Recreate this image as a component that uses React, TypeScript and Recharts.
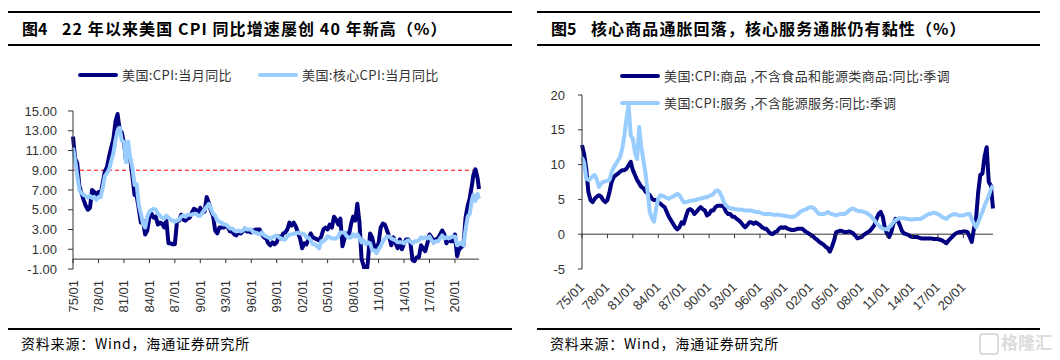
import { Line, LineChart, ReferenceLine, XAxis, YAxis } from "recharts";

const NAVY = "#000080";
const SKY = "#99ccff";
const AXIS = "#333333";
const LATIN = "'Liberation Sans', Arial, sans-serif";
const CJK = "'Noto Sans CJK SC', 'Noto Sans', sans-serif";

const xTickYears = [1975, 1978, 1981, 1984, 1987, 1990, 1993, 1996, 1999, 2002, 2005, 2008, 2011, 2014, 2017, 2020];
const yearLabel = (y: number) => `${String(y % 100).padStart(2, "0")}/01`;

// 图4: 美国 CPI 当月同比, sampled Jan/Apr/Jul/Oct 1975-2021
const cpiYoY = [
  12.4, 10.2, 9.7, 7.4,
  6.7, 6.0, 5.4, 5.0,
  5.2, 7.0, 6.8, 6.4,
  6.8, 6.5, 7.7, 8.9,
  9.3, 10.4, 11.3, 12.1,
  13.9, 14.7, 13.1, 12.8,
  11.8, 10.0, 10.8, 10.1,
  8.4, 6.5, 6.4, 5.1,
  3.7, 3.9, 2.5, 2.9,
  4.2, 4.6, 4.2, 4.3,
  3.5, 3.7, 3.6, 3.2,
  3.9, 1.6, 1.6, 1.5,
  1.5, 3.8, 3.9, 4.5,
  4.0, 3.9, 4.1, 4.2,
  4.7, 5.1, 5.0, 4.5,
  5.2, 4.7, 4.8, 6.3,
  5.7, 4.9, 4.4, 2.9,
  2.6, 3.2, 3.2, 3.2,
  3.3, 3.2, 2.8, 2.8,
  2.5, 2.4, 2.8, 2.6,
  2.8, 3.1, 2.8, 2.8,
  2.7, 2.9, 3.0, 3.0,
  3.0, 2.5, 2.2, 2.1,
  1.6, 1.4, 1.7, 1.5,
  1.7, 2.3, 2.1, 2.6,
  2.7, 3.0, 3.7, 3.4,
  3.7, 3.3, 2.7, 2.1,
  1.1, 1.6, 1.5, 2.0,
  2.6, 2.2, 2.1, 2.0,
  1.9, 2.3, 3.0, 3.2,
  3.0, 3.5, 3.2, 4.3,
  4.0, 3.5, 4.1, 1.3,
  2.1, 2.6, 2.4, 3.5,
  4.3, 3.9, 5.6, 3.7,
  0.0, -0.7, -2.1, -0.2,
  2.6, 2.2, 1.2, 1.2,
  1.6, 3.2, 3.6, 3.5,
  2.9, 2.3, 1.4, 2.2,
  1.6, 1.1, 2.0, 1.0,
  1.6, 2.0, 2.0, 1.7,
  -0.1, -0.2, 0.2, 0.2,
  1.4, 1.1, 0.8, 1.6,
  2.5, 2.2, 1.7, 2.0,
  2.1, 2.5, 2.9, 2.5,
  1.6, 2.0, 1.8, 1.8,
  2.5, 0.3, 1.0, 1.2,
  1.4, 4.2, 5.4, 6.2,
];

// 美国:核心CPI:当月同比, same sampling
const coreCpiYoY = [
  11.3, 10.0, 8.5, 7.0,
  6.7, 6.5, 6.4, 6.2,
  6.4, 6.2, 6.3, 6.0,
  6.3, 6.3, 7.2, 8.4,
  8.7, 9.1, 9.9, 10.7,
  12.0, 13.0, 13.3, 12.0,
  11.9, 9.8, 11.9, 10.2,
  9.3, 7.5, 7.6, 5.5,
  4.6, 3.6, 3.2, 4.3,
  4.8, 5.0, 5.1, 5.0,
  4.6, 4.4, 4.2, 4.1,
  4.4, 4.2, 4.0, 3.9,
  3.8, 3.9, 4.0, 4.3,
  4.4, 4.3, 4.5, 4.5,
  4.5, 4.6, 4.6, 4.4,
  4.4, 4.7, 5.0, 5.3,
  5.6, 5.1, 4.6, 4.4,
  3.9, 3.8, 3.7, 3.5,
  3.5, 3.3, 3.1, 3.1,
  2.9, 2.8, 2.9, 2.8,
  2.9, 3.1, 3.0, 3.0,
  3.0, 2.7, 2.7, 2.6,
  2.5, 2.7, 2.4, 2.3,
  2.2, 2.1, 2.2, 2.3,
  2.4, 2.2, 2.1, 2.0,
  2.0, 2.3, 2.5, 2.5,
  2.6, 2.6, 2.7, 2.6,
  2.6, 2.5, 2.2, 2.2,
  1.9, 1.5, 1.5, 1.3,
  1.1, 1.8, 1.8, 2.0,
  2.3, 2.2, 2.1, 2.1,
  2.1, 2.3, 2.7, 2.7,
  2.7, 2.3, 2.2, 2.2,
  2.5, 2.3, 2.5, 2.2,
  1.7, 1.9, 1.5, 1.7,
  1.6, 0.9, 0.9, 0.6,
  1.0, 1.3, 1.8, 2.1,
  2.3, 2.3, 2.1, 2.0,
  1.9, 1.7, 1.7, 1.7,
  1.6, 1.8, 1.9, 1.8,
  1.6, 1.8, 1.8, 1.9,
  2.2, 2.1, 2.2, 2.1,
  2.3, 1.9, 1.7, 1.8,
  1.8, 2.1, 2.4, 2.1,
  2.2, 2.1, 2.2, 2.3,
  2.3, 1.4, 1.6, 1.6,
  1.4, 3.0, 4.3, 4.6,
];

const months2022 = [1, 3, 6, 9, 11];
const cpiYoY2022 = [7.5, 8.5, 9.1, 8.2, 7.1];
const coreCpiYoY2022 = [6.0, 6.5, 5.9, 6.6, 6.1];
const leftYTicks = [-1, 1, 3, 5, 7, 9, 11, 13, 15];

// 图5: quarterly samples from 75/01
const goodsYoY = [
  12.8, 11.5, 9.4, 6.1,
  4.9, 4.6, 5.1, 5.4,
  5.6, 5.4, 4.9, 4.6,
  4.9, 6.1, 7.5, 8.2,
  8.5, 8.7, 9.0, 9.2,
  9.2, 9.4, 9.9, 10.4,
  9.2, 8.5, 7.8, 7.3,
  6.8, 6.6, 6.1, 5.9,
  5.6, 5.1, 4.9, 4.9,
  4.6, 4.4, 4.1, 3.9,
  3.2, 2.5, 2.0, 1.5,
  1.0, 0.7, 1.0, 1.7,
  1.5, 2.5, 3.4, 3.6,
  3.4, 2.9, 3.2, 3.6,
  3.9, 3.6, 3.4, 2.7,
  2.9, 3.4, 3.4, 3.9,
  4.1, 4.1, 4.1, 3.9,
  3.2, 2.9, 2.9, 2.5,
  2.5, 2.2, 2.0, 1.7,
  1.3, 1.0, 1.3, 1.7,
  1.7, 1.5, 1.7, 1.5,
  1.3, 1.0, 0.8, 0.8,
  0.4, 0.1, 0.0, 0.3,
  0.4, 0.8, 1.0, 0.9,
  1.0, 0.8, 0.7, 0.6,
  0.6, 0.7, 0.8, 0.8,
  0.8, 0.5, 0.3, 0.1,
  -0.1, -0.3, -0.6, -0.8,
  -1.1, -1.3, -1.5, -1.8,
  -2.0, -2.5, -1.8, -0.9,
  0.3, 0.4, 0.5, 0.4,
  0.3, 0.3, 0.4, 0.3,
  0.1, -0.2, -0.6, -0.5,
  -0.4, -0.1, 0.1, 0.3,
  0.5, 0.9, 1.3, 2.2,
  2.9, 3.2, 2.5, 0.8,
  0.1, -0.4, 0.3, 1.5,
  2.2, 2.0, 1.3, 0.5,
  0.1, 0.0, -0.1, -0.3,
  -0.4, -0.4, -0.4, -0.5,
  -0.6, -0.6, -0.6, -0.6,
  -0.6, -0.6, -0.7, -0.7,
  -0.7, -0.8, -0.9, -1.1,
  -1.3, -0.9, -0.6, -0.3,
  0.0, 0.2, 0.3, 0.3,
  0.4, 0.4, 0.3, -0.4,
  -1.1, 0.8, 2.2, 6.0,
  8.5, 8.7, 11.1, 12.5,
  7.5, 7.0, 3.7,
];

const servicesYoY = [
  11.0, 10.3, 8.0, 7.8,
  8.0, 8.3, 8.5, 7.8,
  6.8, 7.3, 7.5, 7.6,
  7.7, 7.8, 8.9, 9.6,
  10.1, 10.6, 11.1, 12.3,
  14.2, 16.6, 18.5, 14.2,
  13.7, 11.8, 10.8, 15.4,
  12.5, 10.6, 8.7, 6.0,
  3.2, 2.3, 1.8, 3.7,
  5.1, 5.6, 5.5, 5.4,
  5.2, 5.1, 5.3, 5.4,
  5.6, 5.8, 5.6, 5.1,
  4.6, 4.6, 4.7, 4.8,
  4.8, 4.9, 4.9, 5.1,
  5.1, 5.2, 5.3, 5.3,
  5.5, 5.6, 5.8, 6.2,
  6.3, 6.0, 5.4, 4.6,
  4.1, 3.9, 3.7, 3.7,
  3.6, 3.6, 3.5, 3.5,
  3.5, 3.4, 3.4, 3.4,
  3.4, 3.3, 3.2, 3.2,
  3.1, 3.0, 2.9, 2.9,
  2.9, 2.9, 2.8, 2.8,
  2.8, 2.8, 2.7, 2.7,
  2.6, 2.6, 2.5, 2.5,
  2.5, 2.7, 2.9, 3.2,
  3.4, 3.5, 3.6, 3.8,
  3.9, 3.8, 3.6, 3.2,
  2.9, 2.9, 2.9, 3.0,
  3.2, 3.0, 2.9, 2.8,
  2.7, 2.8, 2.9, 2.9,
  2.9, 3.1, 3.4, 3.6,
  3.7, 3.5, 3.4, 3.3,
  3.3, 3.2, 3.1, 2.9,
  2.7, 2.4, 2.0, 1.6,
  1.3, 1.0, 0.8, 0.7,
  0.7, 1.0, 1.3, 1.7,
  2.0, 2.2, 2.3, 2.3,
  2.3, 2.2, 2.2, 2.1,
  2.1, 2.2, 2.2, 2.2,
  2.2, 2.4, 2.6, 2.8,
  2.9, 3.0, 3.1, 3.0,
  2.9, 2.7, 2.5, 2.3,
  2.2, 2.5, 2.7, 2.8,
  2.9, 2.8, 2.7, 2.7,
  2.7, 2.8, 2.9, 2.9,
  2.2, 1.5, 1.0, 1.7,
  2.5, 3.2, 4.1, 4.8,
  5.5, 6.5, 7.0,
];
const rightYTicks = [-5, 0, 5, 10, 15, 20];

const leftData = [
  ...cpiYoY.map((v, i) => ({ t: 1975 + i / 4, cpi: v, core: coreCpiYoY[i] })),
  ...months2022.map((m, i) => ({ t: 2022 + (m - 1) / 12, cpi: cpiYoY2022[i], core: coreCpiYoY2022[i] })),
];
const rightData = goodsYoY.map((v, i) => ({ t: 1975 + i / 4, goods: v, services: servicesYoY[i] }));

// plot geometry
const CHART_W = 530;
const CHART_H = 330;
const L_MARGIN = { top: 111, right: 51, bottom: 21, left: 13 };
const R_MARGIN = { top: 95, right: 67, bottom: 21, left: 12 };
const X_AXIS_H = 40;
const leftPlotH = CHART_H - L_MARGIN.top - L_MARGIN.bottom - X_AXIS_H;
const rightPlotH = CHART_H - R_MARGIN.top - R_MARGIN.bottom - X_AXIS_H;
const leftZeroDrop = (leftPlotH * 1) / 16;
const rightZeroDrop = (rightPlotH * 5) / 25;

const tickText = { fontSize: 13, fill: AXIS, fontFamily: LATIN };

function VerticalTick(props: any) {
  const { x, y, payload } = props;
  const z = y - leftZeroDrop;
  return (
    <g>
      <line x1={x} x2={x} y1={z} y2={z + 4} stroke={AXIS} />
      <text transform={`translate(${x + 4.5},${y + 11}) rotate(-90)`} textAnchor="end" {...tickText}>
        {yearLabel(payload.value)}
      </text>
    </g>
  );
}

function SlantTick(props: any) {
  const { x, y, payload } = props;
  const z = y - rightZeroDrop;
  return (
    <g>
      <line x1={x} x2={x} y1={z} y2={z + 4} stroke={AXIS} />
      <text transform={`translate(${x + 3},${y + 19}) rotate(-45)`} textAnchor="end" {...tickText}>
        {yearLabel(payload.value)}
      </text>
    </g>
  );
}

function LegendItem({ left, top, color, label }: { left: number; top: number; color: string; label: string }) {
  return (
    <>
      <div style={{ position: "absolute", left, top: top - 2, width: 40, height: 4, borderRadius: 2, background: color }} />
      <div
        style={{
          position: "absolute",
          left: left + 44,
          top: top - 9,
          fontFamily: CJK,
          fontSize: 13,
          lineHeight: "18px",
          letterSpacing: 0.4,
          color: "#333",
          whiteSpace: "nowrap",
        }}
      >
        {label}
      </div>
    </>
  );
}

function Frame({ left, width, num, title }: { left: number; width: number; num: string; title: string }) {
  const line = { position: "absolute" as const, left, width, height: 1.5, background: "#000" };
  return (
    <>
      <div style={{ ...line, top: 11 }} />
      <div style={{ ...line, top: 44 }} />
      <div style={{ ...line, top: 328 }} />
      <div
        style={{
          position: "absolute",
          left: left + 14,
          top: 17,
          fontFamily: CJK,
          fontWeight: 700,
          fontSize: 16,
          lineHeight: "22px",
          color: "#000",
          whiteSpace: "nowrap",
        }}
      >
        {num}
      </div>
      <div
        style={{
          position: "absolute",
          left: left + 54,
          top: 17,
          fontFamily: CJK,
          fontWeight: 700,
          fontSize: 16,
          lineHeight: "22px",
          letterSpacing: 1.1,
          color: "#000",
          whiteSpace: "nowrap",
        }}
      >
        {title}
      </div>
      <div
        style={{
          position: "absolute",
          left: left + 13,
          top: 333,
          fontFamily: CJK,
          fontSize: 14,
          lineHeight: "20px",
          letterSpacing: 0.8,
          color: "#000",
          whiteSpace: "nowrap",
        }}
      >
        资料来源：Wind，海通证券研究所
      </div>
    </>
  );
}

export default function App() {
  return (
    <div style={{ position: "absolute", left: 0, top: 0, width: 1060, height: 360, background: "#fff", overflow: "hidden" }}>
      <Frame left={8} width={504} num="图4" title="22 年以来美国 CPI 同比增速屡创 40 年新高（%）" />
      <Frame left={537} width={503} num="图5" title="核心商品通胀回落，核心服务通胀仍有黏性（%）" />

      <div style={{ position: "absolute", left: 0, top: 0 }}>
        <LineChart width={CHART_W} height={CHART_H} data={leftData} margin={L_MARGIN}>
          <XAxis
            type="number"
            dataKey="t"
            domain={[1975, 2022 + 10 / 12]}
            ticks={xTickYears}
            interval={0}
            height={X_AXIS_H}
            axisLine={false}
            tickLine={false}
            tickSize={0}
            tickMargin={0}
            tick={VerticalTick}
          />
          <YAxis
            type="number"
            domain={[-1, 15]}
            ticks={leftYTicks}
            interval={0}
            allowDataOverflow
            width={60}
            tickSize={5}
            tickMargin={11}
            axisLine={{ stroke: AXIS }}
            tickLine={{ stroke: AXIS }}
            tick={tickText}
            tickFormatter={(v: number) => v.toFixed(2)}
          />
          <ReferenceLine y={0} stroke={AXIS} />
          <ReferenceLine y={9} stroke="#ff0000" strokeDasharray="4 3" />
          <Line dataKey="cpi" type="linear" stroke={NAVY} strokeWidth={4} strokeLinejoin="round" dot={false} isAnimationActive={false} />
          <Line dataKey="core" type="linear" stroke={SKY} strokeWidth={4} strokeLinejoin="round" dot={false} isAnimationActive={false} />
        </LineChart>
      </div>

      <div style={{ position: "absolute", left: 530, top: 0 }}>
        <LineChart width={CHART_W} height={CHART_H} data={rightData} margin={R_MARGIN}>
          <XAxis
            type="number"
            dataKey="t"
            domain={[1975, 2023.5]}
            ticks={xTickYears}
            interval={0}
            height={X_AXIS_H}
            axisLine={false}
            tickLine={false}
            tickSize={0}
            tickMargin={0}
            tick={SlantTick}
          />
          <YAxis
            type="number"
            domain={[-5, 20]}
            ticks={rightYTicks}
            interval={0}
            allowDataOverflow
            width={40}
            tickSize={4}
            tickMargin={13}
            axisLine={{ stroke: AXIS }}
            tickLine={{ stroke: AXIS }}
            tick={tickText}
          />
          <ReferenceLine y={0} stroke={AXIS} />
          <Line dataKey="goods" type="linear" stroke={NAVY} strokeWidth={4} strokeLinejoin="round" dot={false} isAnimationActive={false} />
          <Line dataKey="services" type="linear" stroke={SKY} strokeWidth={4} strokeLinejoin="round" dot={false} isAnimationActive={false} />
        </LineChart>
      </div>

      <LegendItem left={78} top={75} color={NAVY} label="美国:CPI:当月同比" />
      <LegendItem left={258} top={75} color={SKY} label="美国:核心CPI:当月同比" />
      <LegendItem left={620} top={76} color={NAVY} label="美国:CPI:商品 ,不含食品和能源类商品:同比:季调" />
      <LegendItem left={620} top={103} color={SKY} label="美国:CPI:服务 ,不含能源服务:同比:季调" />

      <div
        style={{
          position: "absolute",
          left: 979,
          top: 333,
          width: 16,
          height: 18,
          border: "2px solid #dcdcdc",
          borderRadius: 4,
        }}
      />
      <div
        style={{
          position: "absolute",
          left: 1001,
          top: 331,
          fontFamily: CJK,
          fontWeight: 700,
          fontSize: 17,
          lineHeight: "22px",
          color: "#dcdcdc",
          whiteSpace: "nowrap",
        }}
      >
        格隆汇
      </div>
    </div>
  );
}
